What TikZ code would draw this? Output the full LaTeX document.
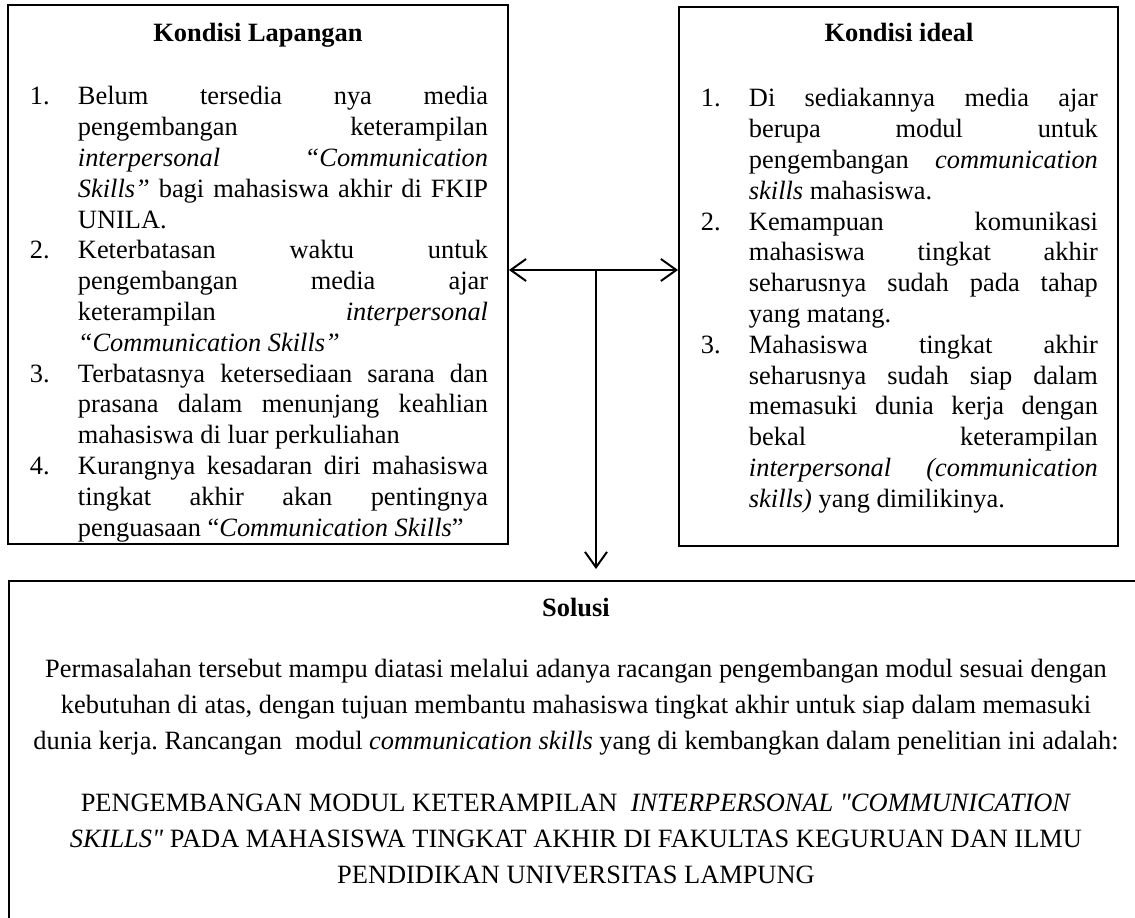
\documentclass[tikz,border=0pt]{standalone}
\usepackage{fontspec}
\setmainfont{Liberation Serif}[Ligatures=TeXOff]
\usepackage{enumitem}
\usetikzlibrary{arrows.meta,fit}

\setlist[enumerate]{leftmargin = 21.8pt, labelwidth = 21.8pt,
  labelsep = 0pt, align = left, itemsep = 0pt, topsep = 0pt,
  parsep = 0pt, partopsep = 0pt}
\hbadness = 10000
\frenchspacing

\begin{document}
\begin{tikzpicture}[
    x = 0.4545pt, y = -0.4545pt,
    line width = 0.9pt,
    >= {Straight Barb[length = 7pt, width = 10pt]},
    font = \fontsize{12}{14}\selectfont,
    %
    panel/.style = {draw, inner sep = 0pt, fit = {#1}},
    heading/.style = {anchor = base,
      font = \fontsize{12}{14}\selectfont\bfseries},
    itemtext/.style = {anchor = north west, inner sep = 0pt,
      align = justify},
    solusitext/.style = {align = center,
      font = \fontsize{12}{16.4}\selectfont},
    ]

    \useasboundingbox (0, 0) rectangle (1135, 918);

    \node [panel = {(8, 5) (508, 544)}] (lapangan) {};
    \node [panel = {(679, 7) (1118, 546)}] (ideal) {};
    \node [panel = {(9, 581) (1143, 960)}] (solusi) {};

    \node [heading] (lapangan-judul) at (258, 42) {Kondisi Lapangan};
    \node [heading] (ideal-judul) at (899, 42) {Kondisi ideal};
    \node [heading] (solusi-judul) at (576, 616) {Solusi};

    \node [itemtext, text width = 208.2pt] (lapangan-isi) at (29, 73) {%
      \begin{enumerate}
      \item Belum tersedia nya media\linebreak
        pengembangan keterampilan\linebreak
        \textit{interpersonal “Communication\linebreak
        Skills”} bagi mahasiswa akhir di FKIP\linebreak
        UNILA.
      \item Keterbatasan waktu untuk\linebreak
        pengembangan media ajar\linebreak
        keterampilan \textit{interpersonal}\linebreak
        \textit{“Communication Skills”}
      \item Terbatasnya ketersediaan sarana dan\linebreak
        prasana dalam menunjang keahlian\linebreak
        mahasiswa di luar perkuliahan
      \item Kurangnya kesadaran diri mahasiswa\linebreak
        tingkat akhir akan pentingnya\linebreak
        penguasaan “\textit{Communication Skills}”
      \end{enumerate}};

    \node [itemtext, text width = 180.4pt] (ideal-isi) at (700, 75) {%
      \begin{enumerate}
      \item Di sediakannya media ajar\linebreak
        berupa modul untuk\linebreak
        pengembangan \textit{communication}\linebreak
        \textit{skills} mahasiswa.
      \item Kemampuan komunikasi\linebreak
        mahasiswa tingkat akhir\linebreak
        seharusnya sudah pada tahap\linebreak
        yang matang.
      \item Mahasiswa tingkat akhir\linebreak
        seharusnya sudah siap dalam\linebreak
        memasuki dunia kerja dengan\linebreak
        bekal keterampilan\linebreak
        \textit{interpersonal (communication}\linebreak
        \textit{skills)} yang dimilikinya.
      \end{enumerate}};

    \node [solusitext] (solusi-teks) at (576, 707)
    {Permasalahan tersebut mampu diatasi melalui adanya racangan pengembangan modul sesuai dengan\\
      kebutuhan di atas, dengan tujuan membantu mahasiswa tingkat akhir untuk siap dalam memasuki\\
      dunia kerja. Rancangan\ \ modul \textit{communication skills} yang di kembangkan dalam penelitian ini adalah:};

    \node [solusitext] (solusi-topik) at (576, 839)
    {PENGEMBANGAN MODUL KETERAMPILAN\ \ \textit{INTERPERSONAL "COMMUNICATION}\\
      \textit{SKILLS"} PADA MAHASISWA TINGKAT AKHIR DI FAKULTAS KEGURUAN DAN ILMU\\
      PENDIDIKAN UNIVERSITAS LAMPUNG};

    \coordinate (cabang) at (596, 270);
    \draw [<->] (lapangan.east |- cabang) -- (ideal.west |- cabang);
    \draw [->, shorten > = 5pt] (cabang) -- (cabang |- solusi.north);

  \end{tikzpicture}
\end{document}
